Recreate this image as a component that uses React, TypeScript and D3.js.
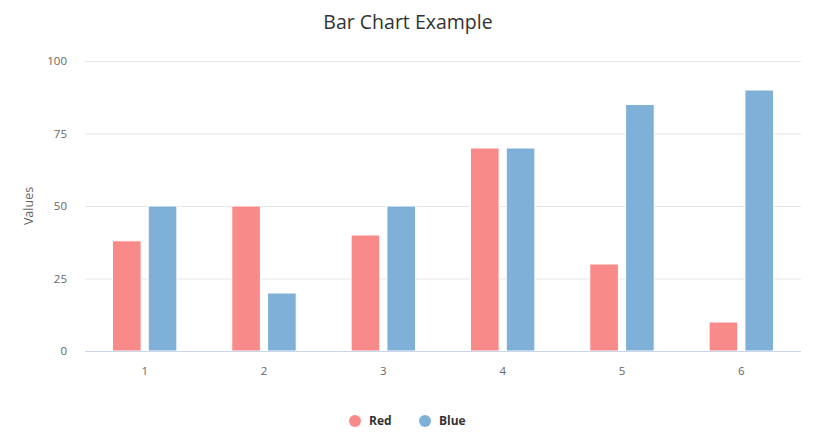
import * as d3 from "d3";

const categories = ["1", "2", "3", "4", "5", "6"];
const redValues = [38, 50, 40, 70, 30, 10];
const blueValues = [50, 20, 50, 70, 85, 90];
const yTicks = [0, 25, 50, 75, 100];

const series = [
  { name: "Red", color: "#f88a89", values: redValues },
  { name: "Blue", color: "#7fb1d8", values: blueValues },
];

const W = 814;
const H = 438;
const margin = { top: 61, right: 13, bottom: 87, left: 85 };
const font = "'Open Sans', 'DejaVu Sans', sans-serif";

export default function App() {
  const innerW = W - margin.left - margin.right;
  const innerH = H - margin.top - margin.bottom;

  // highcharts-like grouping: groupPadding 0.2, pointPadding 0.1
  const groupPad = 0.2;
  const x0 = d3.scaleBand().domain(categories).range([0, innerW]);
  const x1 = d3
    .scaleBand()
    .domain(series.map((s) => s.name))
    .range([x0.bandwidth() * groupPad, x0.bandwidth() * (1 - groupPad)])
    .paddingInner(0.2)
    .paddingOuter(0.1);
  const y = d3.scaleLinear().domain([0, 100]).range([innerH, 0]);

  return (
    <svg width={W} height={H} style={{ position: "absolute", left: 0, top: 0, fontFamily: font }}>
      <rect width={W} height={H} fill="#fff" />
      <text x={W / 2 + 1} y={29} textAnchor="middle" fontSize={19.5} fill="#333">
        Bar Chart Example
      </text>
      <g transform={`translate(${margin.left},${margin.top})`}>
        {yTicks.map((t) => (
          <g key={t}>
            {t > 0 && (
              <line x1={0} x2={innerW} y1={y(t) + 0.5} y2={y(t) + 0.5} stroke="#e6e6e6" />
            )}
            <text x={-18} y={y(t)} dy="0.35em" textAnchor="end" fontSize={11.5} fill="#666">
              {t}
            </text>
          </g>
        ))}
        <text
          transform={`translate(${-52},${innerH / 2}) rotate(-90)`}
          textAnchor="middle"
          fontSize={12.5}
          fill="#666"
        >
          Values
        </text>
        {categories.map((c, i) => (
          <g key={c} transform={`translate(${x0(c)},0)`}>
            {series.map((s) => (
              <rect
                key={s.name}
                x={x1(s.name)}
                y={y(s.values[i])}
                width={x1.bandwidth()}
                height={innerH - y(s.values[i])}
                fill={s.color}
                stroke="#fff"
                strokeWidth={1}
              />
            ))}
            <text
              x={x0.bandwidth() / 2}
              y={innerH + 20}
              dy="0.35em"
              textAnchor="middle"
              fontSize={11.5}
              fill="#666"
            >
              {c}
            </text>
          </g>
        ))}
        <line x1={0} x2={innerW} y1={innerH + 0.5} y2={innerH + 0.5} stroke="#ccd6eb" />
      </g>
      <g transform="translate(0,421)">
        {series.map((s, i) => {
          const cx = i === 0 ? 355 : 425;
          return (
            <g key={s.name}>
              <circle cx={cx} cy={0} r={6} fill={s.color} />
              <text x={cx + 14} y={0} dy="0.35em" fontSize={12} fontWeight="bold" fill="#333">
                {s.name}
              </text>
            </g>
          );
        })}
      </g>
    </svg>
  );
}
